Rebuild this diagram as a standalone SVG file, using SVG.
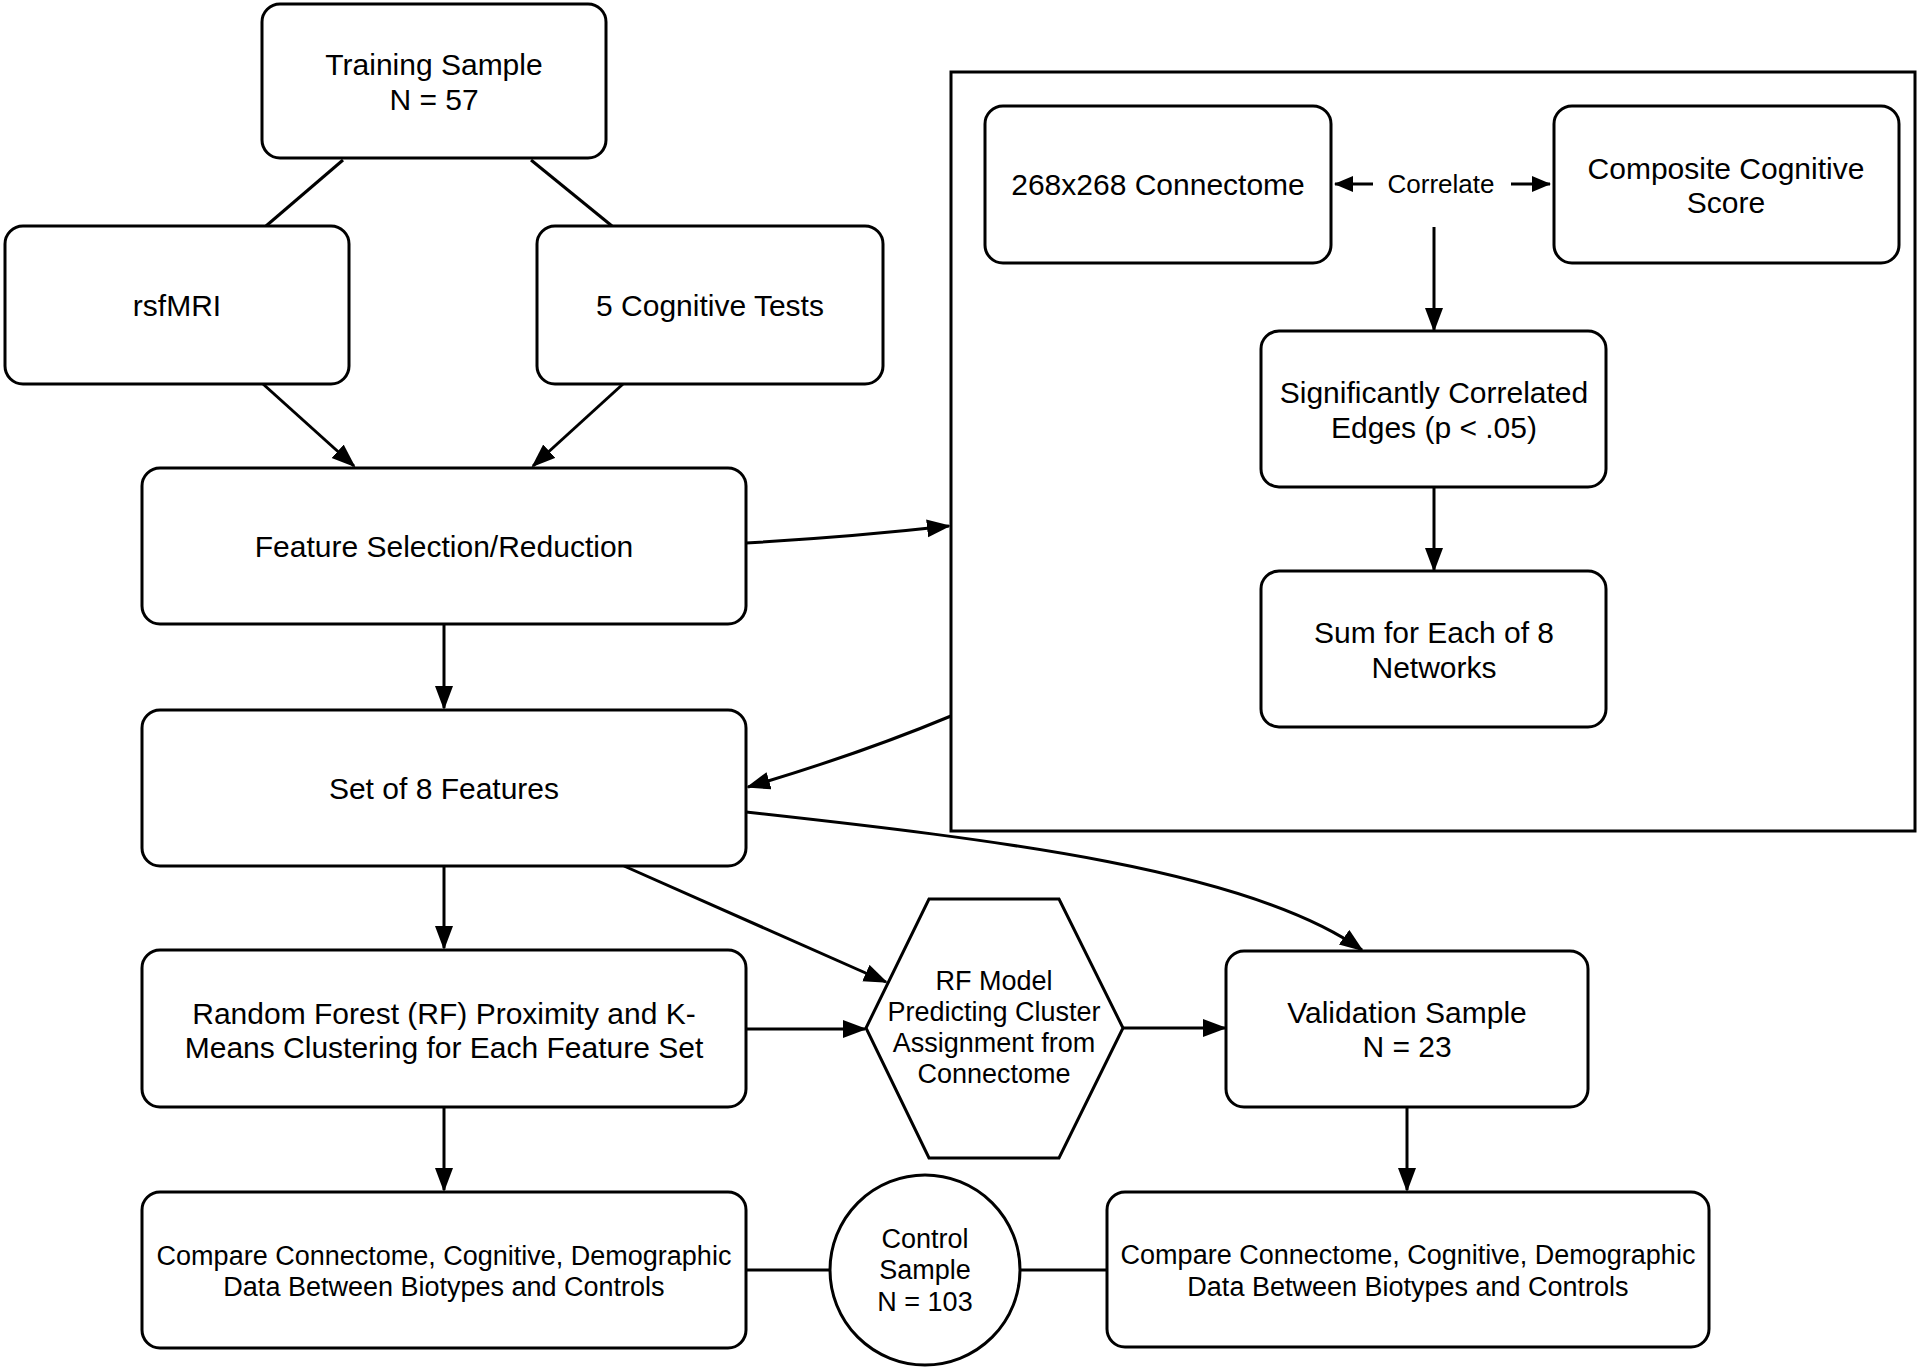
<svg xmlns="http://www.w3.org/2000/svg" width="1920" height="1369" viewBox="0 0 1920 1369">
<defs>
<style>
.box{fill:#fff;stroke:#000;stroke-width:3}
.t{font-family:"Liberation Sans",Arial,Helvetica,sans-serif;font-size:30px;fill:#000;text-anchor:middle}
.s{font-size:27px}
.c{font-size:26px}
.ln{fill:none;stroke:#000;stroke-width:3}
.ar{marker-end:url(#ah)}
.as{marker-end:url(#ahs)}
</style>
<marker id="ah" markerUnits="userSpaceOnUse" markerWidth="26" markerHeight="20" refX="22" refY="9" orient="auto">
<path d="M0,0 L24,9 L0,18 z" fill="#000"/>
</marker>
<marker id="ahs" markerUnits="userSpaceOnUse" markerWidth="22" markerHeight="18" refX="18" refY="8" orient="auto">
<path d="M0,0 L19,8 L0,16 z" fill="#000"/>
</marker>
</defs>
<rect width="1920" height="1369" fill="#fff"/>

<g id="connectors">
<path class="ln" d="M343,160 L266,226"/>
<path class="ln" d="M531,160 L612,226"/>
<path class="ln ar" d="M263,384 L354,466"/>
<path class="ln ar" d="M623,384 L533,466"/>
<path class="ln ar" d="M746,543 Q850,537 949,526"/>
<path class="ln ar" d="M444,624 L444,708"/>
<path class="ln ar" d="M951,716 Q860,754 748,787"/>
<path class="ln ar" d="M444,866 L444,948"/>
<path class="ln ar" d="M624,866 L886,982"/>
<path class="ln ar" d="M746,812 C1000,840 1250,870 1362,950"/>
<path class="ln ar" d="M746,1029 L865,1029"/>
<path class="ln ar" d="M1123,1028 L1225,1028"/>
<path class="ln ar" d="M444,1107 L444,1190"/>
<path class="ln ar" d="M1407,1107 L1407,1190"/>
<path class="ln" d="M746,1270 L830,1270"/>
<path class="ln" d="M1020,1270 L1107,1270"/>
<path class="ln as" d="M1373,184 L1335,184"/>
<path class="ln as" d="M1511,184 L1550,184"/>
<path class="ln ar" d="M1434,227 L1434,330"/>
<path class="ln ar" d="M1434,487 L1434,570"/>
</g>

<g id="container">
<rect x="951" y="72" width="964" height="759" fill="none" stroke="#000" stroke-width="3"/>
</g>

<g id="training">
<rect class="box" x="262" y="4" width="344" height="154" rx="18"/>
<text class="t" x="434" y="75">Training Sample</text>
<text class="t" x="434" y="110">N = 57</text>
</g>
<g id="rsfmri">
<rect class="box" x="5" y="226" width="344" height="158" rx="18"/>
<text class="t" x="177" y="316">rsfMRI</text>
</g>
<g id="cogtests">
<rect class="box" x="537" y="226" width="346" height="158" rx="18"/>
<text class="t" x="710" y="316">5 Cognitive Tests</text>
</g>
<g id="featsel">
<rect class="box" x="142" y="468" width="604" height="156" rx="18"/>
<text class="t" x="444" y="557">Feature Selection/Reduction</text>
</g>
<g id="connectome">
<rect class="box" x="985" y="106" width="346" height="157" rx="18"/>
<text class="t" x="1158" y="195">268x268 Connectome</text>
</g>
<g id="correlate">
<text class="t c" x="1441" y="193">Correlate</text>
</g>
<g id="composite">
<rect class="box" x="1554" y="106" width="345" height="157" rx="18"/>
<text class="t" x="1726" y="179">Composite Cognitive</text>
<text class="t" x="1726" y="213">Score</text>
</g>
<g id="sigedges">
<rect class="box" x="1261" y="331" width="345" height="156" rx="18"/>
<text class="t" x="1434" y="403">Significantly Correlated</text>
<text class="t" x="1434" y="438">Edges (p &lt; .05)</text>
</g>
<g id="sumnet">
<rect class="box" x="1261" y="571" width="345" height="156" rx="18"/>
<text class="t" x="1434" y="643">Sum for Each of 8</text>
<text class="t" x="1434" y="678">Networks</text>
</g>
<g id="set8">
<rect class="box" x="142" y="710" width="604" height="156" rx="18"/>
<text class="t" x="444" y="799">Set of 8 Features</text>
</g>
<g id="rfkmeans">
<rect class="box" x="142" y="950" width="604" height="157" rx="18"/>
<text class="t" x="444" y="1024">Random Forest (RF) Proximity and K-</text>
<text class="t" x="444" y="1058">Means Clustering for Each Feature Set</text>
</g>
<g id="rfmodel">
<polygon class="box" points="929,899 1059,899 1123,1028 1059,1158 929,1158 866,1028"/>
<text class="t s" x="994" y="990">RF Model</text>
<text class="t s" x="994" y="1021">Predicting Cluster</text>
<text class="t s" x="994" y="1052">Assignment from</text>
<text class="t s" x="994" y="1083">Connectome</text>
</g>
<g id="validation">
<rect class="box" x="1226" y="951" width="362" height="156" rx="18"/>
<text class="t" x="1407" y="1023">Validation Sample</text>
<text class="t" x="1407" y="1057">N = 23</text>
</g>
<g id="compareleft">
<rect class="box" x="142" y="1192" width="604" height="156" rx="18"/>
<text class="t s" x="444" y="1265">Compare Connectome, Cognitive, Demographic</text>
<text class="t s" x="444" y="1296">Data Between Biotypes and Controls</text>
</g>
<g id="control">
<circle class="box" cx="925" cy="1270" r="95"/>
<text class="t s" x="925" y="1248">Control</text>
<text class="t s" x="925" y="1279">Sample</text>
<text class="t s" x="925" y="1311">N = 103</text>
</g>
<g id="compareright">
<rect class="box" x="1107" y="1192" width="602" height="155" rx="18"/>
<text class="t s" x="1408" y="1264">Compare Connectome, Cognitive, Demographic</text>
<text class="t s" x="1408" y="1296">Data Between Biotypes and Controls</text>
</g>
</svg>
